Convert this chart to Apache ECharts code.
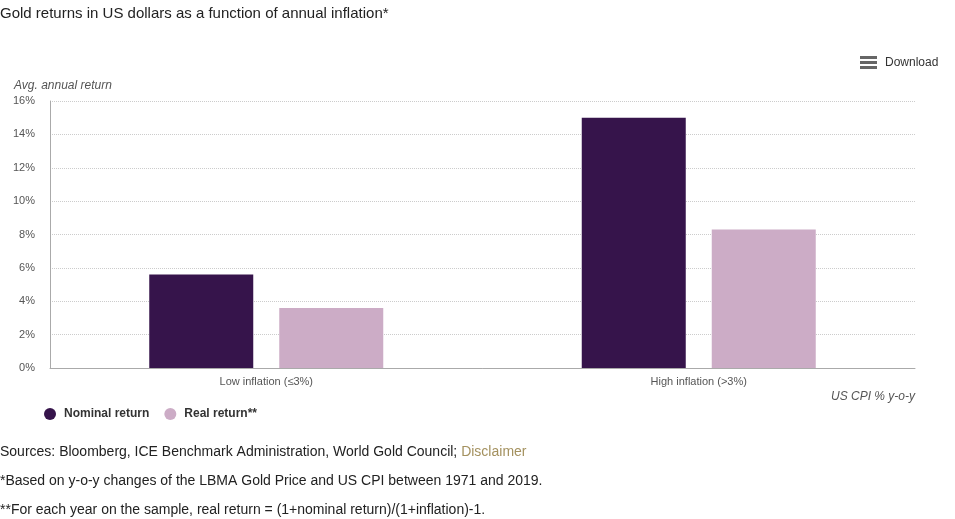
<!DOCTYPE html>
<html><head><meta charset="utf-8">
<script src="https://cdn.jsdelivr.net/npm/echarts@6/dist/echarts.min.js"></script>
<style>html,body{margin:0;padding:0;background:#fff}#c{width:955px;height:519px}</style>
</head><body><div id="c"></div>
<script>
const categories = ['Low inflation (≤3%)', 'High inflation (>3%)'];
const nominalReturn = [5.6, 15.0];
const realReturn = [3.6, 8.3];
const yTicks = [0, 2, 4, 6, 8, 10, 12, 14, 16];

const chart = echarts.init(document.getElementById('c'));
const F = '"Liberation Sans", Arial, sans-serif';
chart.setOption({
  animation: false,
  textStyle: { fontFamily: F },
  title: [
    { text: 'Gold returns in US dollars as a function of annual inflation*', left: 0, top: 6, padding: 0,
      textStyle: { fontSize: 15, fontWeight: 'normal', color: '#222', fontFamily: F } },
    { text: 'Sources: Bloomberg, ICE Benchmark Administration, World Gold Council; {d|Disclaimer}', left: 0, top: 445, padding: 0,
      textStyle: { fontSize: 14, fontWeight: 'normal', color: '#222', fontFamily: F,
        rich: { d: { fontSize: 14, color: '#a4915f', fontFamily: F } } } },
    { text: '*Based on y-o-y changes of the LBMA Gold Price and US CPI between 1971 and 2019.', left: 0, top: 474, padding: 0,
      textStyle: { fontSize: 14, fontWeight: 'normal', color: '#222', fontFamily: F } },
    { text: '**For each year on the sample, real return = (1+nominal return)/(1+inflation)-1.', left: 0, top: 503, padding: 0,
      textStyle: { fontSize: 14, fontWeight: 'normal', color: '#222', fontFamily: F } }
  ],
  graphic: [
    { type: 'rect', left: 860, top: 56, shape: { width: 17, height: 3 }, style: { fill: '#666' } },
    { type: 'rect', left: 860, top: 61, shape: { width: 17, height: 3 }, style: { fill: '#666' } },
    { type: 'rect', left: 860, top: 66, shape: { width: 17, height: 3 }, style: { fill: '#666' } },
    { type: 'text', left: 885, top: 57, style: { text: 'Download', fontSize: 12, fill: '#333', fontFamily: F } },
    { type: 'text', left: 14, top: 80, style: { text: 'Avg. annual return', fontSize: 12, fontStyle: 'italic', fill: '#555', fontFamily: F } },
    { type: 'text', right: 40, top: 391, style: { text: 'US CPI % y-o-y', fontSize: 12, fontStyle: 'italic', fill: '#555', fontFamily: F, align: 'right' } }
  ],
  legend: {
    left: 44, top: 408, padding: 0, itemWidth: 12, itemHeight: 12, itemGap: 15, icon: 'circle',
    textStyle: { fontSize: 12, fontWeight: 'bold', color: '#333', fontFamily: F, padding: [0, 0, 0, 3] },
    data: ['Nominal return', 'Real return**']
  },
  grid: { left: 50, right: 40, top: 101, bottom: 151 },
  xAxis: {
    type: 'category', data: categories,
    axisLine: { lineStyle: { color: '#aaa', width: 1 } },
    axisTick: { show: false },
    axisLabel: { fontSize: 11, color: '#555', margin: 8 }
  },
  yAxis: {
    type: 'value', min: 0, max: 16, interval: 2,
    axisLine: { show: true, lineStyle: { color: '#aaa' } },
    axisTick: { show: false },
    axisLabel: { fontSize: 11, color: '#555', margin: 15,
      formatter: v => yTicks.includes(v) ? v + '%' : '' },
    splitLine: { lineStyle: { color: '#ccc', type: 'dotted' } }
  },
  series: [
    { name: 'Nominal return', type: 'bar', data: nominalReturn, barWidth: 104, barGap: '25%',
      itemStyle: { color: '#36144b' } },
    { name: 'Real return**', type: 'bar', data: realReturn, barWidth: 104,
      itemStyle: { color: '#ccacc6' } }
  ]
});
</script></body></html>
